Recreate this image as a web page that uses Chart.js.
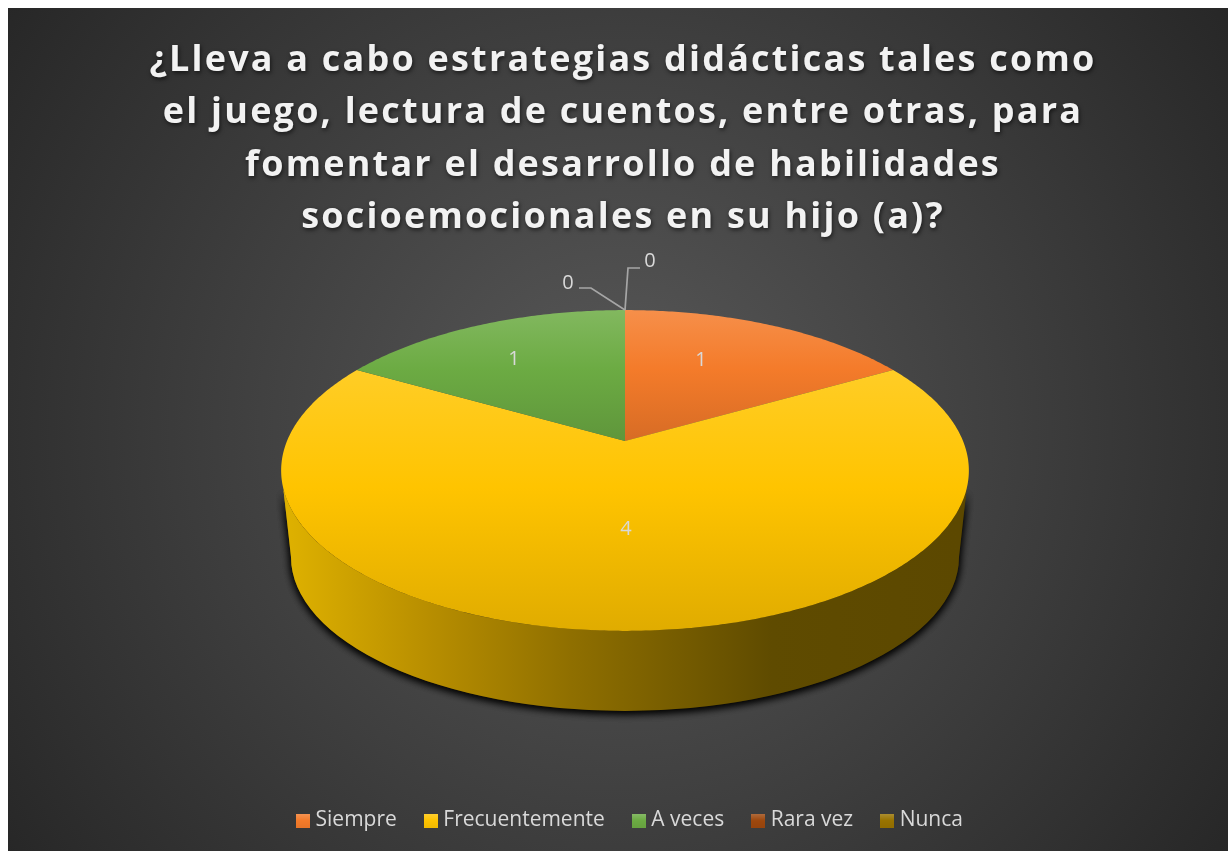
<!DOCTYPE html>
<html lang="es">
<head>
<meta charset="utf-8">
<title>Estrategias didácticas</title>
<script src="https://cdn.jsdelivr.net/npm/chart.js@4"></script>
<style>
  html, body { margin: 0; padding: 0; background: #fff; }
  canvas { display: block; }
</style>
</head>
<body>
<canvas id="grafico" width="1228" height="851"></canvas>
<script>
// datos
const categorias = ['Siempre', 'Frecuentemente', 'A veces', 'Rara vez', 'Nunca'];
const valores = [1, 4, 1, 0, 0];
const colores = ['#F47B2A', '#FFC400', '#6CAB43', '#9E480E', '#997300'];
const titulo = [
  '¿Lleva a cabo estrategias didácticas tales como',
  'el juego, lectura de cuentos, entre otras, para',
  'fomentar el desarrollo de habilidades',
  'socioemocionales en su hijo (a)?'
];

// geometria del disco en perspectiva
const CX = 625, APEX_Y = 441;
const K = 0.1838, ESC_X = 338, ESC_Y = 155;
const TOP = { cy: 470.5, rx: 344, ry: 160.5 };
const BASE = { cy: 557, rx: 334, ry: 154 };

// angulo del arco (chart.js) a punto en pantalla
function proyectar(angulo) {
  const t = angulo + Math.PI / 2;
  const u = Math.cos(t), v = Math.sin(t);
  const d = 1 + K * u;
  return { x: CX + ESC_X * v / d, y: APEX_Y - ESC_Y * u / d };
}

function mezclar(hex, otro, f) {
  const a = parseInt(hex.slice(1), 16), b = parseInt(otro.slice(1), 16);
  const c = s => Math.round(((a >> s) & 255) * (1 - f) + ((b >> s) & 255) * f);
  return 'rgb(' + c(16) + ',' + c(8) + ',' + c(0) + ')';
}

function caraSuperior(ctx, arco) {
  const pasos = Math.max(8, Math.ceil((arco.endAngle - arco.startAngle) * 90));
  const puntos = [];
  for (let i = 0; i <= pasos; i++) {
    puntos.push(proyectar(arco.startAngle + (arco.endAngle - arco.startAngle) * i / pasos));
  }
  const ys = puntos.map(p => p.y).concat(APEX_Y);
  const y0 = Math.min(...ys), y1 = Math.max(...ys);
  const base = arco.options.backgroundColor;
  const g = ctx.createLinearGradient(0, y0, 0, y1);
  g.addColorStop(0, mezclar(base, '#ffffff', 0.15));
  g.addColorStop(0.45, base);
  g.addColorStop(1, mezclar(base, '#000000', 0.12));
  ctx.beginPath();
  ctx.moveTo(CX, APEX_Y);
  puntos.forEach(p => ctx.lineTo(p.x, p.y));
  ctx.closePath();
  ctx.fillStyle = g;
  ctx.fill();
}

function costado(ctx) {
  const g = ctx.createLinearGradient(CX - BASE.rx, 0, CX + BASE.rx, 0);
  g.addColorStop(0, '#DDB000');
  g.addColorStop(0.2, '#B98F00');
  g.addColorStop(0.42, '#8F6F00');
  g.addColorStop(0.72, '#5F4B00');
  g.addColorStop(1, '#5C4800');
  const t = 0.12;
  ctx.save();
  ctx.shadowColor = 'rgba(0,0,0,0.95)';
  ctx.shadowBlur = 8;
  ctx.shadowOffsetY = 2;
  ctx.beginPath();
  ctx.ellipse(CX, BASE.cy, BASE.rx, BASE.ry, 0, 0, Math.PI);
  ctx.ellipse(CX, TOP.cy, TOP.rx, TOP.ry, 0, Math.PI - t, t, true);
  ctx.closePath();
  ctx.fillStyle = g;
  // dos pasadas para oscurecer la sombra
  ctx.fill();
  ctx.fill();
  ctx.restore();
}

const fondo = {
  id: 'fondo',
  beforeDraw(chart) {
    const ctx = chart.ctx;
    const g = ctx.createRadialGradient(618, 430, 0, 618, 430, 760);
    g.addColorStop(0, '#595959');
    g.addColorStop(1, '#262626');
    ctx.save();
    ctx.fillStyle = g;
    ctx.fillRect(8, 8, chart.width - 8, chart.height - 8);
    ctx.restore();

    // espaciado y sombra del titulo
    const bloque = chart.titleBlock;
    if (bloque && !bloque._espaciado) {
      const dibujar = bloque.draw;
      bloque.draw = function () {
        const c = this.ctx;
        c.save();
        c.letterSpacing = '2.2px';
        c.shadowColor = 'rgba(0,0,0,0.6)';
        c.shadowBlur = 4;
        c.shadowOffsetX = 1;
        c.shadowOffsetY = 2;
        dibujar.apply(this, arguments);
        c.restore();
      };
      bloque._espaciado = true;
    }
    // la leyenda del original va un poco a la derecha
    const leyenda = chart.legend;
    if (leyenda && !leyenda._movida) {
      const pintar = leyenda.draw;
      leyenda.draw = function () {
        const c = this.ctx;
        c.save();
        c.translate(9, 0);
        pintar.apply(this, arguments);
        c.restore();
      };
      leyenda._movida = true;
    }
  }
};

const pastel3d = {
  id: 'pastel3d',
  beforeDatasetDraw(chart, args) {
    const ctx = chart.ctx;
    const arcos = args.meta.data;
    costado(ctx);
    arcos.forEach(a => { if (a.endAngle - a.startAngle > 0) caraSuperior(ctx, a); });
    return false;
  }
};

// desplazamiento de cada etiqueta respecto al vertice
const etiquetaPos = [[76, -81], [1, 88], [-111, -82], [-57, -158], [25, -180]];

const etiquetas = {
  id: 'etiquetas',
  afterDatasetsDraw(chart) {
    const ctx = chart.ctx;
    const arcos = chart.getDatasetMeta(0).data;
    ctx.save();
    // lineas guia de los valores cero
    ctx.strokeStyle = '#a6a6a6';
    ctx.lineWidth = 1.7;
    const borde = proyectar(arcos[3].startAngle);
    [[579, 288, 591, 288], [640, 268, 628, 268]].forEach(l => {
      ctx.beginPath();
      ctx.moveTo(l[0], l[1]);
      ctx.lineTo(l[2], l[3]);
      ctx.lineTo(borde.x, borde.y);
      ctx.stroke();
    });
    ctx.fillStyle = '#d9d9d9';
    ctx.font = '20px "Open Sans"';
    ctx.textAlign = 'center';
    ctx.textBaseline = 'middle';
    valores.forEach((v, i) => {
      ctx.fillText(String(v), CX + etiquetaPos[i][0], APEX_Y + etiquetaPos[i][1]);
    });
    ctx.restore();
  }
};

// cuadritos de la leyenda con degradado
const muestras = colores.map(c => {
  const lienzo = document.createElement('canvas');
  lienzo.width = 14;
  lienzo.height = 14;
  const l = lienzo.getContext('2d');
  const g = l.createLinearGradient(0, 0, 0, 14);
  g.addColorStop(0, mezclar(c, '#ffffff', 0.2));
  g.addColorStop(0.5, c);
  g.addColorStop(1, mezclar(c, '#000000', 0.05));
  l.fillStyle = g;
  l.fillRect(0, 0, 14, 14);
  return lienzo;
});

new Chart(document.getElementById('grafico'), {
  type: 'pie',
  data: {
    labels: categorias,
    datasets: [{ data: valores, backgroundColor: colores, borderWidth: 0 }]
  },
  plugins: [fondo, pastel3d, etiquetas],
  options: {
    responsive: false,
    animation: false,
    layout: { padding: { left: 18, right: 0, top: 34.5, bottom: 10 } },
    plugins: {
      tooltip: { enabled: false },
      title: {
        display: true,
        text: titulo,
        color: '#f2f2f2',
        font: { family: '"Open Sans"', size: 36, weight: 'bold', lineHeight: 1.453 },
        padding: { top: 0, bottom: 0 }
      },
      legend: {
        position: 'bottom',
        labels: {
          color: '#d9d9d9',
          font: { family: '"Open Sans"', size: 21 },
          usePointStyle: true,
          pointStyleWidth: 4,
          padding: 32,
          generateLabels(chart) {
            const base = Chart.overrides.pie.plugins.legend.labels.generateLabels(chart);
            base.forEach((it, i) => { it.pointStyle = muestras[i]; });
            return base;
          }
        }
      }
    }
  }
});
</script>
</body>
</html>
